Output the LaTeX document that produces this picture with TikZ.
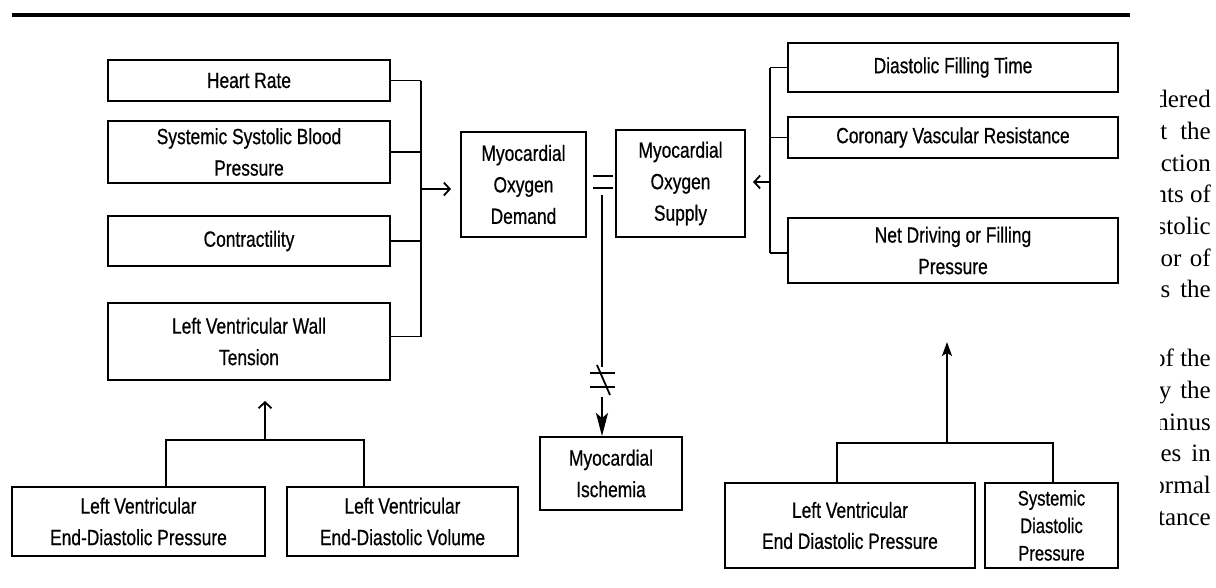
\documentclass[tikz,border=0pt]{standalone}
\usepackage{fontspec}
\newfontfamily\diagfont[FakeStretch=0.79,FakeBold=0.6]{Liberation Sans}
\newfontfamily\pagefont{Liberation Serif}
\usetikzlibrary{arrows.meta,calc}
\begin{document}
\begin{tikzpicture}[x=1pt,y=-1pt,
  dbox/.style={draw=black,line width=1.9pt,inner sep=0pt,align=center,
    font=\diagfont\fontsize{22}{31.5}\selectfont},
  wire/.style={draw=black,line width=1.8pt},
  barb/.style={wire,-{Straight Barb[length=6pt,width=13pt,line width=1.8pt]}},
  fillarr/.style={wire,-{Stealth[length=14pt,width=10pt,inset=3pt]}},
  longarr/.style={wire,-{Stealth[length=23pt,width=12pt,inset=5pt]}},
  pagetext/.style={anchor=base east,inner sep=0pt,font=\pagefont\fontsize{25}{31.7}\selectfont}
]
\path[fill=white] (0,0) rectangle (1216,587);
\useasboundingbox (0,0) rectangle (1216,587);

% top rule
\draw[line width=3.5pt] (12,15) -- (1130,15);

% left column
\node[dbox,minimum width=282pt,minimum height=41pt] (hr) at (249,80.5) {Heart Rate};
\node[dbox,minimum width=282pt,minimum height=62pt] (ssbp) at (249,152) {Systemic Systolic Blood\\Pressure};
\node[dbox,minimum width=282pt,minimum height=50pt] (con) at (249,241) {Contractility};
\node[dbox,minimum width=282pt,minimum height=77pt] (lvwt) at (249,341.5) {Left Ventricular Wall\\Tension};

% centre
\node[dbox,minimum width=125pt,minimum height=105pt] (dem) at (523.5,184.5) {Myocardial\\Oxygen\\Demand};
\node[dbox,minimum width=129pt,minimum height=107pt] (sup) at (680.5,183.5) {Myocardial\\Oxygen\\Supply};
\node[dbox,minimum width=142pt,minimum height=73pt] (isch) at (611,473.5) {Myocardial\\Ischemia};

% right column
\node[dbox,minimum width=330pt,minimum height=49pt] (dft) at (953,67.5) {Diastolic Filling Time};
\node[dbox,minimum width=330pt,minimum height=41pt] (cvr) at (953,137.5) {Coronary Vascular Resistance};
\node[dbox,minimum width=330pt,minimum height=65pt] (nd) at (953,250.5) {Net Driving or Filling\\Pressure};

% bottom left
\node[dbox,minimum width=253pt,minimum height=69pt] (lvedp) at (138.5,521.5) {Left Ventricular\\End-Diastolic Pressure};
\node[dbox,minimum width=231pt,minimum height=69pt] (lvedv) at (402.5,521.5) {Left Ventricular\\End-Diastolic Volume};

% bottom right
\node[dbox,minimum width=250pt,minimum height=85pt,font=\diagfont\fontsize{22}{31}\selectfont] (lvedpr) at (850,525.5) {Left Ventricular\\End Diastolic Pressure};
\node[dbox,minimum width=133pt,minimum height=85pt,font=\diagfont\fontsize{21}{27.5}\selectfont] (sdp) at (1051.5,525.5) {Systemic\\Diastolic\\Pressure};

% left bracket
\coordinate (lbm) at (421,189);
\draw[wire] (hr.east) -- (hr.east -| lbm);
\draw[wire] (ssbp.east) -- (ssbp.east -| lbm);
\draw[wire] (con.east) -- (con.east -| lbm);
\draw[wire] ([yshift=5pt]lvwt.east) -- ([yshift=5pt]lvwt.east -| lbm);
\draw[wire] (hr.east -| lbm) -- ([yshift=5pt]lvwt.east -| lbm);
\draw[barb,shorten >=9pt] (lbm) -- (lbm -| dem.west);

% right bracket
\coordinate (rbm) at (770,182);
\draw[wire] (dft.west) -- (dft.west -| rbm);
\draw[wire] (cvr.west) -- (cvr.west -| rbm);
\draw[wire] ([yshift=-2.5pt]nd.west) -- ([yshift=-2.5pt]nd.west -| rbm);
\draw[wire] (dft.west -| rbm) -- ([yshift=-2.5pt]nd.west -| rbm);
\draw[barb,shorten >=7pt] (rbm) -- (rbm -| sup.east);

% equals sign
\draw[wire,line width=2pt] (593,176) -- (613,176);
\draw[wire,line width=2pt] (593,188) -- (613,188);

% line to ischemia with not-equal sign
\coordinate (vt) at (602,195);
\coordinate (vb) at (602,367);
\coordinate (va) at (602,397);
\draw[wire] (vt) -- (vb);
\draw[longarr] (va) -- (va |- isch.north);
\draw[wire,line width=2pt] (590,373) -- (615,373);
\draw[wire,line width=2pt] (590,387) -- (615,387);
\draw[wire,line width=1.8pt] (597,365) -- (610,395);

% bottom left tree
\coordinate (bl) at (265,440);
\coordinate (blt) at (265,401);
\draw[wire] ([xshift=27.5pt]lvedp.north) |- (bl) -| ([xshift=-38.5pt]lvedv.north);
\draw[barb] (bl) -- (blt);

% bottom right tree
\coordinate (br) at (947,443);
\coordinate (brt) at (947,342);
\draw[wire] ([xshift=-13pt]lvedpr.north) |- (br) -| ([xshift=1.5pt]sdp.north);
\draw[fillarr] (br) -- (brt);

% clipped page text at the right edge
\begin{scope}
\clip (1160,0) rectangle (1216,587);
\node[pagetext] (t1) at (1211,107.7) {considered};
\node[pagetext] (t2) at (1211,139.3) {that\hspace{13pt}the};
\node[pagetext] (t3) at (1211,171) {function};
\node[pagetext] (t4) at (1211,202.7) {determinants of};
\node[pagetext] (t5) at (1211,234.3) {diastolic};
\node[pagetext] (t6) at (1211,266) {factor\hspace{8.5pt}of};
\node[pagetext] (t7) at (1211,297.7) {is\hspace{10pt}the};
\node[pagetext] (t8) at (1211,366) {of the};
\node[pagetext] (t9) at (1211,398.3) {by\hspace{9pt}the};
\node[pagetext] (t10) at (1211,430) {minus};
\node[pagetext] (t11) at (1211,461.7) {changes\hspace{10pt}in};
\node[pagetext] (t12) at (1211,493.3) {normal};
\node[pagetext] (t13) at (1211,525) {resistance};
\end{scope}
\end{tikzpicture}
\end{document}
